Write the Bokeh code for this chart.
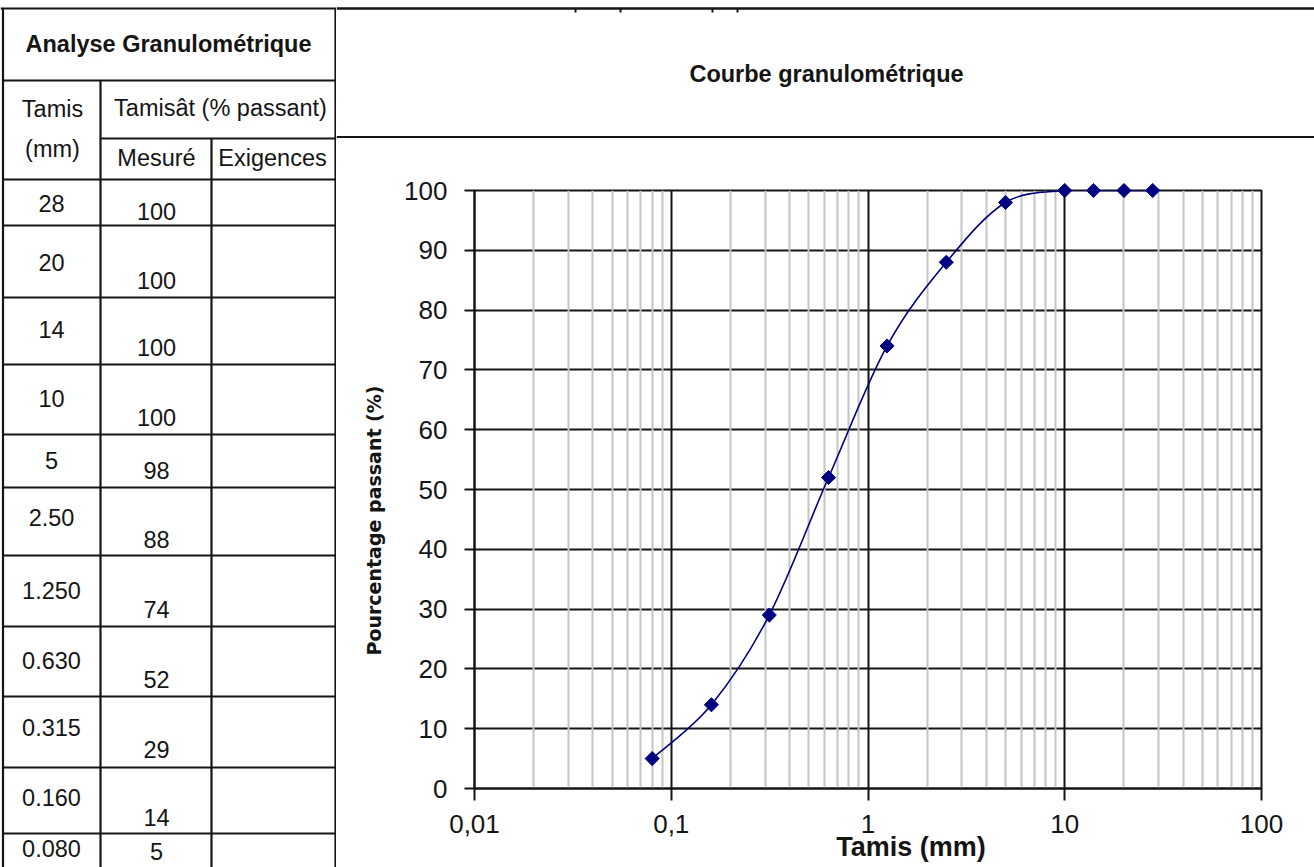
import numpy as np
from bokeh.plotting import figure
from bokeh.layouts import row, column
from bokeh.models import Range1d, FixedTicker
from bokeh.core.properties import value
from bokeh.embed import file_html
from bokeh.resources import INLINE

# ---- sieve analysis data -------------------------------------------------
tamis_mm = [28, 20, 14, 10, 5, 2.5, 1.25, 0.63, 0.315, 0.16, 0.08]
tamis_labels = ["28", "20", "14", "10", "5", "2.50", "1.250", "0.630",
                "0.315", "0.160", "0.080"]
passant = [100, 100, 100, 100, 98, 88, 74, 52, 29, 14, 5]

x_ticks = [0.01, 0.1, 1, 10, 100]
x_tick_labels = ["0,01", "0,1", "1", "10", "100"]
y_ticks = list(range(0, 101, 10))

# ---- page layout ---------------------------------------------------------
FONT = "Liberation Sans"
INK = "#151515"
NAVY = "#000080"

W_TABLE, W_RIGHT = 336, 978
H_HEAD, H_TOTAL = 138, 867

# table grid (pixel positions inside the table panel)
row_tops = [179, 225, 297, 364, 434, 487, 555, 626, 696, 767, 833]
tamis_text_y = [203, 262, 329, 398, 460, 517, 590, 660, 727, 797, 848]
passant_text_y = [211, 280, 347, 417, 470, 539, 609, 679, 749, 817, 851]
COL_TAMIS_X, COL_MES_X = 51, 156
TABLE_FONT_SIZE = "23.5px"


def page_panel(width, height):
    fig = figure(width=width, height=height, x_range=Range1d(0, width),
                 y_range=Range1d(height, 0), x_axis_type=None,
                 y_axis_type=None, output_backend="svg",
                 toolbar_location=None, min_border=0)
    fig.outline_line_color = None
    return fig


# ---- left: analysis table ------------------------------------------------
tab = page_panel(W_TABLE, H_TOTAL)

hx0, hx1, hy = [], [], []
for y in row_tops:
    hx0.append(2.5); hx1.append(335); hy.append(y)
hx0 += [0, 2.5, 100]; hx1 += [W_TABLE, 335, 335]; hy += [8, 80, 138]
tab.segment(x0=hx0, y0=hy, x1=hx1, y1=hy, line_color=INK, line_width=2.2)
tab.segment(x0=[2.5, 100, 211, 335], y0=[8, 80, 138, 8],
            x1=[2.5, 100, 211, 335], y1=[H_TOTAL] * 4,
            line_color=INK, line_width=2.2)

txt = dict(text_font=value(FONT), text_align="center",
           text_baseline="middle", text_color=INK)
tab.text(x=[168], y=[43], text=["Analyse Granulométrique"],
         text_font_size="23.5px", text_font_style="bold", **txt)
tab.text(x=[52, 52, 220, 156, 272], y=[108, 148, 107, 157, 157],
         text=["Tamis", "(mm)", "Tamisât (% passant)", "Mesuré", "Exigences"],
         text_font_size=TABLE_FONT_SIZE, **txt)
tab.text(x=[COL_TAMIS_X] * len(tamis_labels), y=tamis_text_y,
         text=tamis_labels, text_font_size=TABLE_FONT_SIZE, **txt)
tab.text(x=[COL_MES_X] * len(passant), y=passant_text_y,
         text=[str(v) for v in passant], text_font_size=TABLE_FONT_SIZE,
         **txt)

# ---- right top: chart title box ------------------------------------------
head = page_panel(W_RIGHT, H_HEAD)
head.segment(x0=[0, 0], y0=[8, 136.8], x1=[W_RIGHT, W_RIGHT], y1=[8, 136.8],
             line_color=INK, line_width=2.4)
head.segment(x0=[239, 284, 376, 401], y0=[8] * 4, x1=[239, 284, 376, 401],
             y1=[12] * 4, line_color=INK, line_width=2)
head.text(x=[490], y=[73], text=["Courbe granulométrique"],
          text_font_size="23.5px", text_font_style="bold", **txt)

# ---- right: grading curve ------------------------------------------------
p = figure(width=W_RIGHT, height=H_TOTAL - H_HEAD, x_axis_type="log",
           x_range=Range1d(0.01, 100), y_range=Range1d(0, 100),
           output_backend="svg", toolbar_location=None,
           min_border_left=138, min_border_right=53,
           min_border_top=52, min_border_bottom=79)
p.outline_line_color = INK
p.outline_line_width = 2

minor = [m * 10.0 ** k for k in range(-2, 2) for m in range(2, 10)]
p.xaxis.ticker = FixedTicker(ticks=x_ticks, minor_ticks=minor)
p.xaxis.major_label_overrides = dict(zip(x_ticks, x_tick_labels))
p.yaxis.ticker = FixedTicker(ticks=y_ticks)

for ax in (p.xaxis[0], p.yaxis[0]):
    ax.axis_line_color = INK
    ax.axis_line_width = 2
    ax.major_tick_line_color = INK
    ax.major_tick_line_width = 2
    ax.major_tick_in = 0
    ax.minor_tick_line_color = None
    ax.major_label_text_font = FONT
    ax.major_label_text_font_size = "26px"
    ax.major_label_text_color = INK
p.xaxis.major_tick_out = 12
p.yaxis.major_tick_out = 10
p.xaxis.major_label_standoff = 14
p.yaxis.major_label_standoff = 17

p.xgrid.grid_line_color = INK
p.xgrid.grid_line_width = 2
p.xgrid.minor_grid_line_color = "#c4c4c4"
p.xgrid.minor_grid_line_width = 2
p.ygrid.grid_line_color = INK
p.ygrid.grid_line_width = 2
# vertical lines drawn over the horizontal ones
p.center = [p.ygrid[0], p.xgrid[0]]

# smoothed curve: cubic Bezier segments through the points (log-x space)
order = np.argsort(tamis_mm)
lx = np.log10(np.asarray(tamis_mm, dtype=float)[order])
py = np.asarray(passant, dtype=float)[order]
n = len(lx)
seg = {k: [] for k in ("x0", "y0", "x1", "y1", "cx0", "cy0", "cx1", "cy1")}
for i in range(n - 1):
    a, b = max(i - 1, 0), min(i + 2, n - 1)
    c0x = lx[i] + (lx[i + 1] - lx[a]) / 6
    c0y = py[i] + (py[i + 1] - py[a]) / 6
    c1x = lx[i + 1] - (lx[b] - lx[i]) / 6
    c1y = py[i + 1] - (py[b] - py[i]) / 6
    seg["x0"].append(10 ** lx[i]); seg["y0"].append(py[i])
    seg["x1"].append(10 ** lx[i + 1]); seg["y1"].append(py[i + 1])
    seg["cx0"].append(10 ** c0x); seg["cy0"].append(c0y)
    seg["cx1"].append(10 ** c1x); seg["cy1"].append(c1y)
p.bezier(line_color=NAVY, line_width=1.6, **seg)

pts = p.scatter(x=tamis_mm, y=passant, marker="square", angle=np.pi / 4,
                size=10, fill_color=NAVY, line_color=NAVY)
pts.level = "overlay"

# axis titles, anchored on the axes and shifted out into the margins
ytitle = p.text(x=[0.01], y=[50], text=["Pourcentage passant (%)"],
                x_offset=-101, y_offset=31, angle=np.pi / 2,
                text_font=value("DejaVu Sans"), text_font_style="bold",
                text_font_size="19px", text_color=INK,
                text_align="center", text_baseline="middle")
xtitle = p.text(x=[1], y=[0], text=["Tamis (mm)"], x_offset=43, y_offset=58,
                text_font=value(FONT), text_font_style="bold",
                text_font_size="27px", text_color=INK,
                text_align="center", text_baseline="middle")
ytitle.level = "overlay"
xtitle.level = "overlay"

for fig in (tab, head, p):
    if "frame_align" in fig.properties():
        fig.frame_align = False

page = row(tab, column(head, p, spacing=0), spacing=0)
open("out.html", "w").write(file_html(page, INLINE))
